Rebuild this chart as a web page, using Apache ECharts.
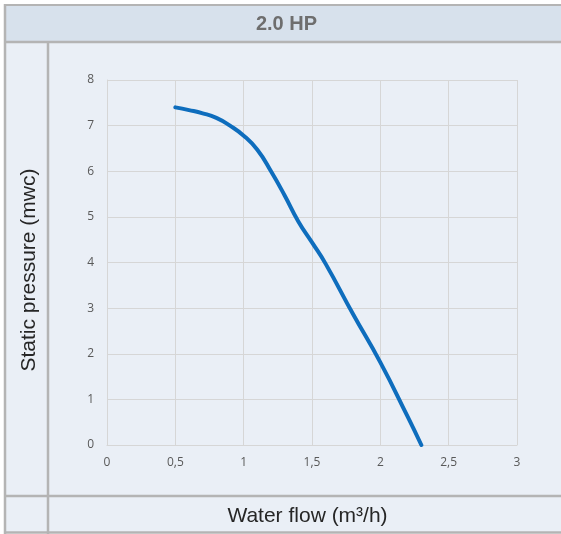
<!DOCTYPE html>
<html>
<head>
<meta charset="utf-8">
<script src="https://cdn.jsdelivr.net/npm/echarts@6/dist/echarts.min.js"></script>
<style>
html,body{margin:0;padding:0;background:#fff;}
#c{width:561px;height:534px;}
</style>
</head>
<body>
<div id="c"></div>
<script>
var titleText = '2.0 HP';
var xName = 'Water flow (m³/h)';
var yName = 'Static pressure (mwc)';
var flow = [0.5, 0.6, 0.7, 0.8, 0.9, 1.0, 1.1, 1.2, 1.3, 1.4, 1.5, 1.6, 1.8, 2.0, 2.2, 2.3];
var pressure = [7.4, 7.34, 7.27, 7.17, 7.0, 6.78, 6.47, 6.0, 5.47, 4.9, 4.44, 3.97, 2.87, 1.81, 0.62, 0];

var chart = echarts.init(document.getElementById('c'), null, {renderer: 'canvas'});
var border = '#b4b4b4';
var data = flow.map(function (x, i) { return [x, pressure[i]]; });

chart.setOption({
  backgroundColor: '#ffffff',
  animation: false,
  graphic: [
    {type: 'rect', z: -100, shape: {x: 5, y: 42, width: 570, height: 490}, style: {fill: '#eaeff6'}},
    {type: 'rect', z: -100, shape: {x: 5, y: 5, width: 570, height: 37}, style: {fill: '#d7e1ec'}},
    {type: 'line', z: -90, shape: {x1: 4, y1: 5, x2: 575, y2: 5}, style: {stroke: border, lineWidth: 2}},
    {type: 'line', z: -90, shape: {x1: 5, y1: 4, x2: 5, y2: 534}, style: {stroke: border, lineWidth: 2.5}},
    {type: 'line', z: -90, shape: {x1: 4, y1: 42, x2: 575, y2: 42}, style: {stroke: border, lineWidth: 2.5}},
    {type: 'line', z: -90, shape: {x1: 48, y1: 42, x2: 48, y2: 534}, style: {stroke: border, lineWidth: 2.5}},
    {type: 'line', z: -90, shape: {x1: 4, y1: 496, x2: 575, y2: 496}, style: {stroke: border, lineWidth: 2.5}},
    {type: 'line', z: -90, shape: {x1: 4, y1: 532.5, x2: 575, y2: 532.5}, style: {stroke: border, lineWidth: 2.5}},
    {type: 'text', z: 10, x: 286.5, y: 24, style: {text: titleText, fill: '#6e6e6e', font: 'bold 20px "Liberation Sans", Arial, sans-serif', textAlign: 'center', textVerticalAlign: 'middle'}},
    {type: 'text', z: 10, x: 307.5, y: 516, style: {text: xName, fill: '#262626', font: '21px "Liberation Sans", Arial, sans-serif', textAlign: 'center', textVerticalAlign: 'middle'}},
    {type: 'text', z: 10, x: 29, y: 270, rotation: Math.PI / 2, style: {text: yName, fill: '#262626', font: '21px "Liberation Sans", Arial, sans-serif', textAlign: 'center', textVerticalAlign: 'middle'}}
  ],
  grid: {left: 107, right: 44, top: 80, bottom: 89, containLabel: false},
  xAxis: {
    type: 'value', min: 0, max: 3, interval: 0.5,
    axisLine: {show: true, lineStyle: {color: '#d6d6d6', width: 1}},
    axisTick: {show: false},
    splitLine: {show: true, lineStyle: {color: '#d6d6d6', width: 1}},
    axisLabel: {
      margin: 12, color: '#595959', fontSize: 12, fontFamily: '"Open Sans", "Noto Sans", sans-serif',
      formatter: function (v) { return String(v).replace('.', ','); }
    }
  },
  yAxis: {
    type: 'value', min: 0, max: 8, interval: 1,
    axisLine: {show: true, lineStyle: {color: '#d6d6d6', width: 1}},
    axisTick: {show: false},
    splitLine: {show: true, lineStyle: {color: '#d6d6d6', width: 1}},
    axisLabel: {
      margin: 13, color: '#595959', fontSize: 12, fontFamily: '"Open Sans", "Noto Sans", sans-serif'
    }
  },
  series: [{
    type: 'line',
    data: data,
    smooth: 0.5,
    showSymbol: false,
    lineStyle: {color: '#0e6dbd', width: 4, cap: 'round'},
    itemStyle: {color: '#0e6dbd'}
  }]
});
</script>
</body>
</html>
